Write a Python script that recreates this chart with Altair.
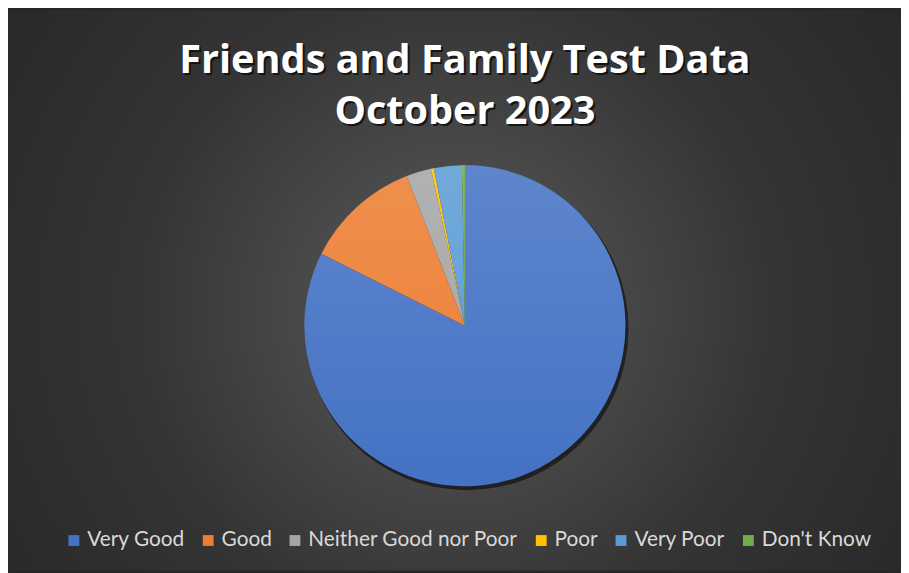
import altair as alt
import pandas as pd

categories = ["Very Good", "Good", "Neither Good nor Poor", "Poor", "Very Poor", "Don't Know"]
values = [824, 117, 25, 3, 28, 3]
colors = ["#4472C4", "#ED7D31", "#A5A5A5", "#FFC000", "#5B9BD5", "#70AD47"]
title_lines = ["Friends and Family Test Data", "October 2023"]

W, H = 901, 565
CX, CY, R = 461, 318, 162

df = pd.DataFrame({"category": categories, "value": values, "idx": list(range(len(categories)))})
one = pd.DataFrame({"a": [0]})
tdf = pd.DataFrame({"line": title_lines, "ypos": [63, 115]})

bg = alt.Chart(one).mark_rect(
    color={
        "gradient": "radial",
        "x1": 0.5, "y1": 0.52, "x2": 0.5, "y2": 0.52, "r1": 0, "r2": 0.72,
        "stops": [
            {"offset": 0, "color": "#5a5a5a"},
            {"offset": 0.22, "color": "#4a4a4a"},
            {"offset": 0.5, "color": "#343434"},
            {"offset": 1, "color": "#232323"},
        ],
    }
).encode(x=alt.value(0), x2=alt.value(W), y=alt.value(0), y2=alt.value(H))

shadow = alt.Chart(one).mark_arc(
    radius=R + 1, theta=0, theta2=6.2832, color="#1a1a1a", opacity=0.85
).encode(x=alt.value(CX + 2), y=alt.value(CY + 3))

pie = alt.Chart(df).mark_arc(radius=R).encode(
    theta=alt.Theta("value:Q", stack=True),
    order=alt.Order("idx:Q"),
    color=alt.Color(
        "category:N",
        sort=categories,
        scale=alt.Scale(domain=categories, range=colors),
        legend=alt.Legend(
            orient="none", legendX=56, legendY=524, direction="horizontal",
            title=None, symbolType="square", symbolSize=120, symbolStrokeWidth=0,
            labelFont="Lato", labelFontSize=21, labelColor="#d9d9d9",
            columnPadding=12.5, labelLimit=400, labelOffset=3,
        ),
    ),
    x=alt.value(CX), y=alt.value(CY),
)

sheen = alt.Chart(one).mark_arc(
    radius=R, theta=0, theta2=6.2832,
    color={
        "gradient": "linear", "x1": 0, "y1": 0, "x2": 0, "y2": 1,
        "stops": [
            {"offset": 0, "color": "rgba(255,255,255,0.14)"},
            {"offset": 1, "color": "rgba(255,255,255,0)"},
        ],
    },
).encode(x=alt.value(CX), y=alt.value(CY))

title_shadow = alt.Chart(tdf).mark_text(
    font="Open Sans", fontSize=40, fontWeight="bold", color="#111111", opacity=0.9,
    baseline="alphabetic", align="center", dx=2, dy=2,
).encode(text="line:N", x=alt.value(CX), y=alt.Y("ypos:Q", scale=None))

title = alt.Chart(tdf).mark_text(
    font="Open Sans", fontSize=40, fontWeight="bold", color="#ffffff",
    baseline="alphabetic", align="center",
).encode(text="line:N", x=alt.value(CX), y=alt.Y("ypos:Q", scale=None))

chart = alt.layer(bg, shadow, pie, sheen, title_shadow, title).properties(
    width=W, height=H, padding=0, autosize=alt.AutoSizeParams(type="none"),
    background="#262626",
).configure_view(stroke=None)

chart.save("out.html", embed_options={"renderer": "svg", "actions": False})
